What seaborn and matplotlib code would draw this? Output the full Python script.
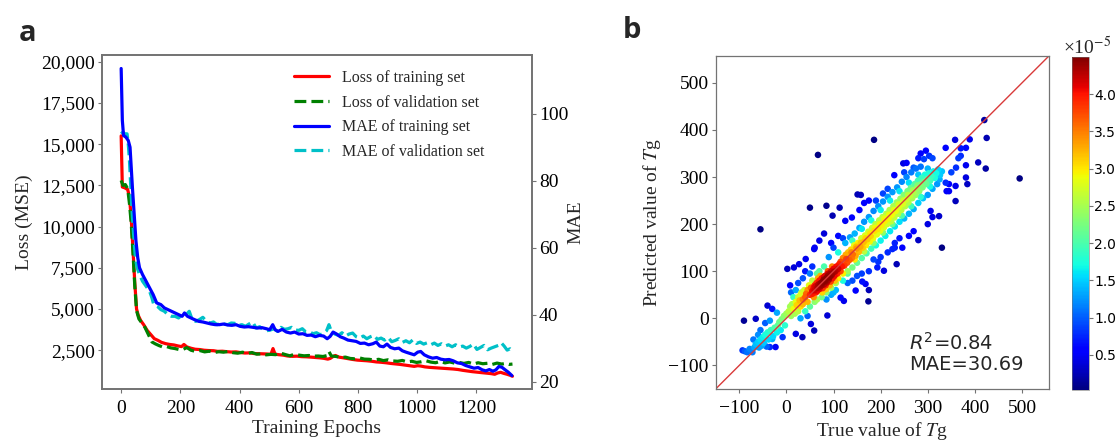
import numpy as np
import pandas as pd
import matplotlib
matplotlib.use("Agg")
import matplotlib.pyplot as plt
import seaborn as sns

# ---- panel a : training history (epoch, value) ----
loss_train = [(0,15500),(4,12400),(12,12350),(22,12250),(28,11800),(34,10500),(40,8600),(46,6600),(52,5000),(58,4600),
	(66,4300),(76,4050),(88,3700),(100,3450),(112,3200),(124,3100),(136,2980),(150,2900),(164,2850),(178,2820),
	(192,2760),(204,2720),(212,2850),(222,2700),(236,2620),(250,2560),(266,2540),(280,2500),(296,2480),(312,2470),
	(326,2430),(342,2440),(358,2410),(372,2390),(388,2400),(402,2360),(418,2330),(434,2340),(448,2300),(464,2290),
	(480,2280),(494,2270),(506,2250),(513,2600),(520,2260),(532,2230),(548,2200),(562,2150),(578,2130),(594,2140),
	(610,2110),(626,2100),(642,2080),(656,2060),(670,2040),(684,2010),(698,1960),(706,2000),(716,2120),(724,2180),
	(736,2080),(750,2040),(766,1990),(782,1940),(798,1900),(814,1880),(830,1860),(846,1830),(862,1790),(878,1770),
	(894,1740),(910,1700),(926,1670),(942,1640),(958,1600),(974,1560),(990,1520),(1002,1560),(1012,1540),(1026,1490),
	(1042,1460),(1058,1440),(1074,1420),(1090,1400),(1106,1380),(1122,1360),(1138,1330),(1154,1280),(1170,1240),
	(1186,1200),(1202,1170),(1218,1140),(1234,1110),(1250,1080),(1262,1040),(1272,1120),(1282,1160),(1292,1100),
	(1304,1040),(1314,980),(1322,920)]

loss_val = [(0,12800),(6,12500),(14,12550),(22,12300),(28,11400),(34,10200),(40,8400),(46,6400),(52,4900),(60,4400),
	(70,4150),(80,3900),(92,3450),(104,3000),(116,2880),(128,2780),(140,2700),(154,2720),(168,2640),(182,2600),
	(196,2540),(210,2560),(222,2660),(236,2500),(250,2430),(266,2480),(282,2400),(298,2440),(314,2360),(330,2410),
	(346,2380),(362,2430),(378,2350),(394,2320),(410,2380),(426,2300),(442,2360),(458,2260),(474,2280),(490,2220),
	(506,2250),(522,2230),(538,2330),(554,2240),(570,2160),(586,2260),(602,2200),(618,2160),(634,2180),(650,2140),
	(666,2150),(682,2120),(694,2170),(702,2420),(710,2150),(726,2120),(742,2060),(758,2080),(774,2000),(790,1980),
	(806,2030),(822,1960),(838,1950),(854,1900),(870,1950),(886,1870),(902,1920),(918,1850),(934,1830),(950,1880),
	(966,1790),(982,1830),(998,1760),(1014,1800),(1030,1860),(1046,1780),(1062,1740),(1078,1820),(1094,1730),
	(1110,1790),(1126,1720),(1142,1760),(1158,1700),(1174,1760),(1190,1660),(1206,1740),(1222,1680),(1238,1710),
	(1254,1640),(1270,1720),(1286,1660),(1298,1700),(1310,1640),(1322,1660)]

mae_train = [(0,113.5),(4,98),(8,93.5),(16,93),(24,92),(30,90),(34,84),(38,78),(44,70),(50,62),(56,57),(62,54),
	(72,52),(84,50),(96,48),(108,46),(120,43.5),(134,43),(146,42),(158,41.5),(170,41),(182,40.5),(194,40),(206,39.5),
	(214,40.5),(224,39.5),(236,39),(248,38.5),(262,38),(276,37.8),(290,37.5),(304,37.2),(318,37),(332,37),(346,37.2),
	(360,36.9),(374,36.8),(388,37),(402,36.5),(416,36.3),(430,36.4),(446,36.2),(460,36),(476,36.1),(490,35.8),
	(502,35.5),(512,37),(520,35.5),(530,35),(544,35.6),(558,34.8),(572,34.5),(586,34.8),(600,34.2),(614,34.3),
	(628,33.8),(642,33.9),(656,33.4),(670,33.8),(684,33.6),(696,32.8),(706,33.5),(716,34.8),(728,34.2),(740,33.4),
	(752,33),(766,32.4),(780,32.2),(794,32),(808,31.4),(822,31.5),(836,31),(850,31.3),(862,31.8),(874,30.6),
	(886,30.4),(898,31.2),(910,30.2),(924,29.8),(938,30),(950,29.2),(962,28.8),(976,28.4),(990,28),(1002,28.8),
	(1012,29),(1024,28),(1038,27.4),(1052,27),(1066,27.2),(1080,26.7),(1094,26.5),(1108,26.6),(1122,26.2),
	(1136,25.6),(1150,25.4),(1164,24.8),(1178,24.4),(1192,24),(1206,24.2),(1220,23.5),(1232,23.2),(1244,23.6),
	(1256,23.1),(1266,23.5),(1276,24.5),(1286,24.3),(1296,23.6),(1308,22.8),(1320,21.8)]

mae_val = [(0,94),(6,94.5),(12,94),(20,94),(24,91),(28,86),(32,79),(36,72),(42,64),(48,57),(54,54),(62,52),
	(72,50),(84,48.5),(96,47),(104,45),(110,43),(122,42.5),(134,41.5),(146,41),(158,40),(170,39.5),(182,39.5),
	(194,39),(206,40),(218,39.8),(230,41),(240,38.5),(252,38),(264,38.5),(276,39.2),(288,38),(300,37.5),(312,37.8),
	(324,37),(336,37.5),(348,37.2),(360,37),(372,37.5),(384,37.4),(396,36.8),(408,37),(420,36.5),(432,37.2),
	(444,37.8),(456,36),(468,36.4),(480,35.5),(492,35.2),(504,35.4),(516,35.8),(528,35),(540,36.2),(552,35.6),
	(564,35.8),(576,36.2),(588,35.4),(600,35.3),(612,35.8),(624,34.8),(636,34.9),(648,34.3),(660,34.6),(672,34),
	(684,34.4),(694,35.2),(702,37),(710,35),(722,34.2),(734,33.8),(746,34.6),(758,33.6),(770,34.2),(782,34.5),
	(794,33.4),(806,33),(818,33.6),(830,32.8),(842,33.4),(854,33.8),(866,32.6),(878,33),(890,32.4),(902,33.2),
	(914,31.9),(926,32.3),(938,32.8),(950,31.7),(962,32.2),(974,31.6),(986,32.5),(998,31.4),(1010,31.8),(1022,31.2),
	(1034,31.6),(1046,31),(1058,31.5),(1070,30.8),(1082,31.3),(1094,30.6),(1106,31),(1118,30.4),(1130,31),
	(1142,30.3),(1154,30.6),(1166,30),(1178,30.5),(1190,31.2),(1202,29.6),(1214,30.2),(1226,30.8),(1238,29.5),
	(1250,30),(1262,30.4),(1274,30.8),(1284,31.6),(1294,30.6),(1304,29.4),(1314,29.8),(1322,29.2)]

loss_ticks = [2500, 5000, 7500, 10000, 12500, 15000, 17500, 20000]
mae_ticks = [20, 40, 60, 80, 100]
epoch_ticks = [0, 200, 400, 600, 800, 1000, 1200]

# ---- panel b : true vs predicted Tg ----
tg_points = [
	# low tail
	(-93,-68),(-88,-70),(-83,-72),(-78,-65),(-72,-72),(-68,-62),(-65,-55),(-60,-50),(-58,-62),(-55,-45),
	(-52,-58),(-50,-40),(-48,-52),(-45,-35),(-42,-60),(-40,-30),(-38,-45),(-35,-61),(-33,-25),(-30,-44),
	(-28,-38),(-25,-20),(-23,-61),(-20,-30),(-18,-15),(-15,-8),(-12,-25),(-10,-2),(-8,-40),(-5,5),(-3,-15),
	(0,10),(-90,-5),(-65,-1),(-40,27),(-55,-25),(-60,-35),(-30,20),(-20,12),(-45,-10),(-70,-45),(-35,-5),
	# 0..60
	(2,105),(16,108),(27,115),(41,126),(59,147),(59,-26),(20,-33),(34,-40),(52,-12),(5,15),(8,25),(10,5),
	(12,30),(15,20),(18,10),(20,35),(22,28),(25,15),(25,45),(28,38),(30,25),(30,50),(32,55),(35,40),(35,30),
	(38,60),(40,45),(40,15),(42,52),(45,60),(45,35),(48,70),(50,50),(50,25),(52,65),(55,58),(55,80),(58,45),
	(60,70),(45,5),(30,0),(15,45),(20,60),(10,55),(8,70),(25,75),(35,85),(50,95),(40,100),(55,110),
	# core
	(60,60),(62,68),(64,75),(65,58),(66,65),(68,72),(70,62),(70,80),(72,68),(73,75),(75,70),(75,85),(77,64),
	(78,78),(80,72),(80,88),(82,80),(83,70),(85,85),(86,76),(88,90),(90,82),(90,95),(92,88),(94,78),(95,100),
	(96,92),(98,85),(100,98),(100,105),(102,90),(104,100),(106,110),(108,95),(110,105),(55,52),(58,65),(63,55),
	(67,85),(72,90),(76,55),(84,62),(88,100),(92,70),(97,110),(103,80),(112,115),(115,100),(65,95),(70,100),
	(80,110),(85,55),(95,65),(105,75),(110,85),(115,120),(118,110),(120,95),(75,45),(85,40),(95,50),(100,55),
	(65,40),(60,35),(68,66),(74,72),(79,82),(84,78),(89,86),(93,94),(71,70),(77,76),(82,90),(87,94),
	(87,6),(122,37),(115,44),(147,59),(161,78),(168,73),(174,36),(67,347),(50,235),(85,239),(113,235),
	(98,218),(125,207),(139,214),(-55,189),(80,180),(70,165),(95,160),(60,150),
	(100,150),(110,140),(90,130),(120,80),(130,75),(105,60),(175,60),(200,130),(215,140),(230,150),
	# 120..330 band
	(120,128),(123,112),(126,135),(129,118),(131,140),(134,124),(137,146),(139,128),(141,136),(144,155),
	(147,133),(149,148),(152,160),(154,141),(157,152),(159,170),(162,150),(164,162),(167,176),(169,155),
	(172,168),(174,184),(177,163),(179,175),(182,192),(184,170),(187,186),(189,200),(192,178),(194,190),
	(197,208),(199,186),(202,198),(204,215),(207,193),(209,207),(212,222),(214,200),(217,212),(219,230),
	(222,206),(224,220),(227,238),(229,214),(232,228),(234,246),(237,222),(239,236),(242,254),(244,230),
	(247,243),(249,262),(252,238),(254,252),(257,270),(259,246),(262,260),(264,277),(267,255),(269,268),
	(272,285),(274,262),(277,276),(279,292),(282,270),(284,284),(287,298),(289,278),(292,290),(294,305),
	(297,285),(299,296),(302,308),(305,292),(308,302),(312,312),(315,298),(318,308),(322,316),(326,304),
	(330,312),
	(127,126),(138,140),(148,152),(158,160),(168,170),(178,180),(188,192),(198,200),(208,212),(218,220),
	(228,230),(238,242),(248,250),(258,262),(268,272),(278,282),
	# spread above the band
	(125,160),(135,172),(145,180),(155,192),(165,205),(175,215),(185,228),(195,238),(205,248),(215,258),
	(225,268),(235,278),(245,290),(255,300),(265,310),(275,318),(285,322),(140,165),(160,190),(180,208),
	(200,230),(220,250),(240,270),(260,288),(280,305),(300,318),(190,250),(205,265),(215,275),(250,310),
	(270,320),(280,340),(285,350),
	# spread below the band
	(130,100),(140,108),(150,118),(160,128),(170,138),(180,148),(190,155),(200,165),(210,175),(220,185),
	(230,195),(240,205),(250,212),(260,222),(270,232),(280,245),(290,255),(300,262),(310,275),(320,285),
	(145,125),(165,142),(185,160),(205,182),(225,200),(245,218),(265,238),(285,258),(305,280),(325,295),
	# scattered points 120..500
	(151,263),(158,262),(186,379),(207,101),(234,115),(193,108),(225,147),(246,150),(150,90),(160,95),
	(130,95),(140,80),(175,100),(185,125),(195,120),(120,170),(110,175),(155,230),(165,245),(175,250),
	(229,304),(248,329),(255,330),(280,166),(324,217),(306,228),(330,150),(296,356),(292,338),(303,345),
	(310,340),(340,270),(345,285),(338,362),(358,379),(370,361),(381,362),(381,325),(381,299),(384,285),
	(359,281),(359,249),(345,270),(338,288),(389,380),(407,331),(420,421),(425,383),(423,318),(495,297),
	(350,310),(360,320),(365,340),(370,345),(300,200),(310,215),(270,185),(260,175),(240,170),(230,160)]

tg_ticks = [-100, 0, 100, 200, 300, 400, 500]
cbar_ticks = [0.5, 1.0, 1.5, 2.0, 2.5, 3.0, 3.5, 4.0]

sns.set_theme(style="ticks")
plt.rcParams['font.family'] = ['Liberation Serif', 'DejaVu Sans']
plt.rcParams['mathtext.fontset'] = 'stix'
plt.rcParams['axes.edgecolor'] = '0.45'
plt.rcParams['xtick.color'] = '0.45'
plt.rcParams['ytick.color'] = '0.45'
plt.rcParams['xtick.labelcolor'] = 'black'
plt.rcParams['ytick.labelcolor'] = 'black'

jet = matplotlib.colormaps["jet"]

fig = plt.figure(figsize=(11.2, 4.41), dpi=100)

# ---------------- panel a ----------------
ax1 = fig.add_axes([0.091, 0.118, 0.384, 0.757])
ax2 = ax1.twinx()

def frame(pairs):
	return pd.DataFrame(pairs, columns=["epoch", "v"])

lt = frame(loss_train)
lv = frame(loss_val)
mt = frame(mae_train)
mv = frame(mae_val)

lw = 2.3
sns.lineplot(data=lt, x="epoch", y="v", ax=ax1, color="red", lw=lw, label="Loss of training set", legend=False)
sns.lineplot(data=lv, x="epoch", y="v", ax=ax1, color="green", lw=lw, ls="--", label="Loss of validation set", legend=False)
sns.lineplot(data=mv, x="epoch", y="v", ax=ax2, color="#00c0c8", lw=lw, ls="--", label="MAE of validation set", legend=False)
sns.lineplot(data=mt, x="epoch", y="v", ax=ax2, color="blue", lw=lw, label="MAE of training set", legend=False)

ax1.set_xlim(-65, 1388)
ax1.set_ylim(150, 20400)
ax2.set_ylim(17.8, 117.5)
ax1.set_xticks(epoch_ticks)
ax1.set_yticks(loss_ticks)
ax1.set_yticklabels(['{:,}'.format(t) for t in loss_ticks])
ax2.set_yticks(mae_ticks)
for a in (ax1, ax2):
	a.tick_params(labelsize=14, length=3, width=0.8, pad=2)
ax1.tick_params(axis="x", pad=5)
ax1.set_xlabel("Training Epochs", fontsize=14, labelpad=2)
ax1.set_ylabel("Loss (MSE)", fontsize=14, labelpad=6)
ax2.set_ylabel("MAE", fontsize=14, labelpad=-1)

h1, l1 = ax1.get_legend_handles_labels()
h2, l2 = ax2.get_legend_handles_labels()
handles = h1 + [h2[1], h2[0]]
labels = l1 + [l2[1], l2[0]]
ax2.legend(handles, labels, loc="upper left", bbox_to_anchor=(0.425, 0.985), frameon=False,
	fontsize=11.5, handlelength=2.2, labelspacing=0.55, borderaxespad=0.2)

fig.text(0.017, 0.925, "a", fontsize=21, fontweight="bold", family="Open Sans", va="center")

# ---------------- panel b ----------------
axb = fig.add_axes([0.639, 0.118, 0.2975, 0.755])
pts = np.array(tg_points, dtype=float)
n = len(pts)
cov = np.cov(pts.T) * n ** (-2.0 / 6.0)
inv = np.linalg.inv(cov)
d = pts[:, None, :] - pts[None, :, :]
q = np.einsum('abi,ij,abj->ab', d, inv, d)
dens = np.exp(-0.5 * q).sum(axis=1) / (n * 2 * np.pi * np.sqrt(np.linalg.det(cov)))
dens = dens / dens.max() * 4.45   # in units of 1e-5, as on the colour bar

sc = pd.DataFrame({"true": pts[:, 0], "pred": pts[:, 1], "dens": dens}).sort_values("dens")
vmin, vmax = 0.03, 4.5
sns.scatterplot(data=sc, x="true", y="pred", hue="dens", palette=jet, hue_norm=(vmin, vmax),
	s=22, linewidth=0, legend=False, ax=axb)
axb.axline((0, 0), slope=1, color="#d93a3a", lw=1)

axb.set_xlim(-150, 557)
axb.set_ylim(-150, 557)
axb.set_xticks(tg_ticks)
axb.set_yticks(tg_ticks)
axb.tick_params(labelsize=14, length=3, width=0.8, pad=2)
axb.tick_params(axis="x", pad=5)
for s in axb.spines.values():
	s.set_linewidth(0.9)
axb.set_xlabel("True value of $\\mathit{T}$g", fontsize=14, labelpad=2)
axb.set_ylabel("Predicted value of $\\mathit{T}$g", fontsize=14, labelpad=4)
axb.text(260, -52, "$R^2$=0.84", fontsize=14, family="DejaVu Sans", math_fontfamily="dejavusans", va="center")
axb.text(260, -98, "MAE=30.69", fontsize=14, family="DejaVu Sans", va="center")

cax = fig.add_axes([0.957, 0.116, 0.0152, 0.755])
sm = plt.cm.ScalarMappable(norm=plt.Normalize(vmin, vmax), cmap=jet)
cb = fig.colorbar(sm, cax=cax)
cb.set_ticks(cbar_ticks)
cb.set_ticklabels(['{:.1f}'.format(t) for t in cbar_ticks])
cb.outline.set_linewidth(0.4)
cax.tick_params(labelsize=10, length=3, width=0.8, pad=1)
for t in cax.get_yticklabels():
	t.set_family("DejaVu Sans")
fig.text(0.949, 0.893, "\u00d710$^{\\mathrm{-5}}$", fontsize=14, va="center")

fig.text(0.556, 0.93, "b", fontsize=21, fontweight="bold", family="Open Sans", va="center")

fig.savefig("out.png", dpi=100)
